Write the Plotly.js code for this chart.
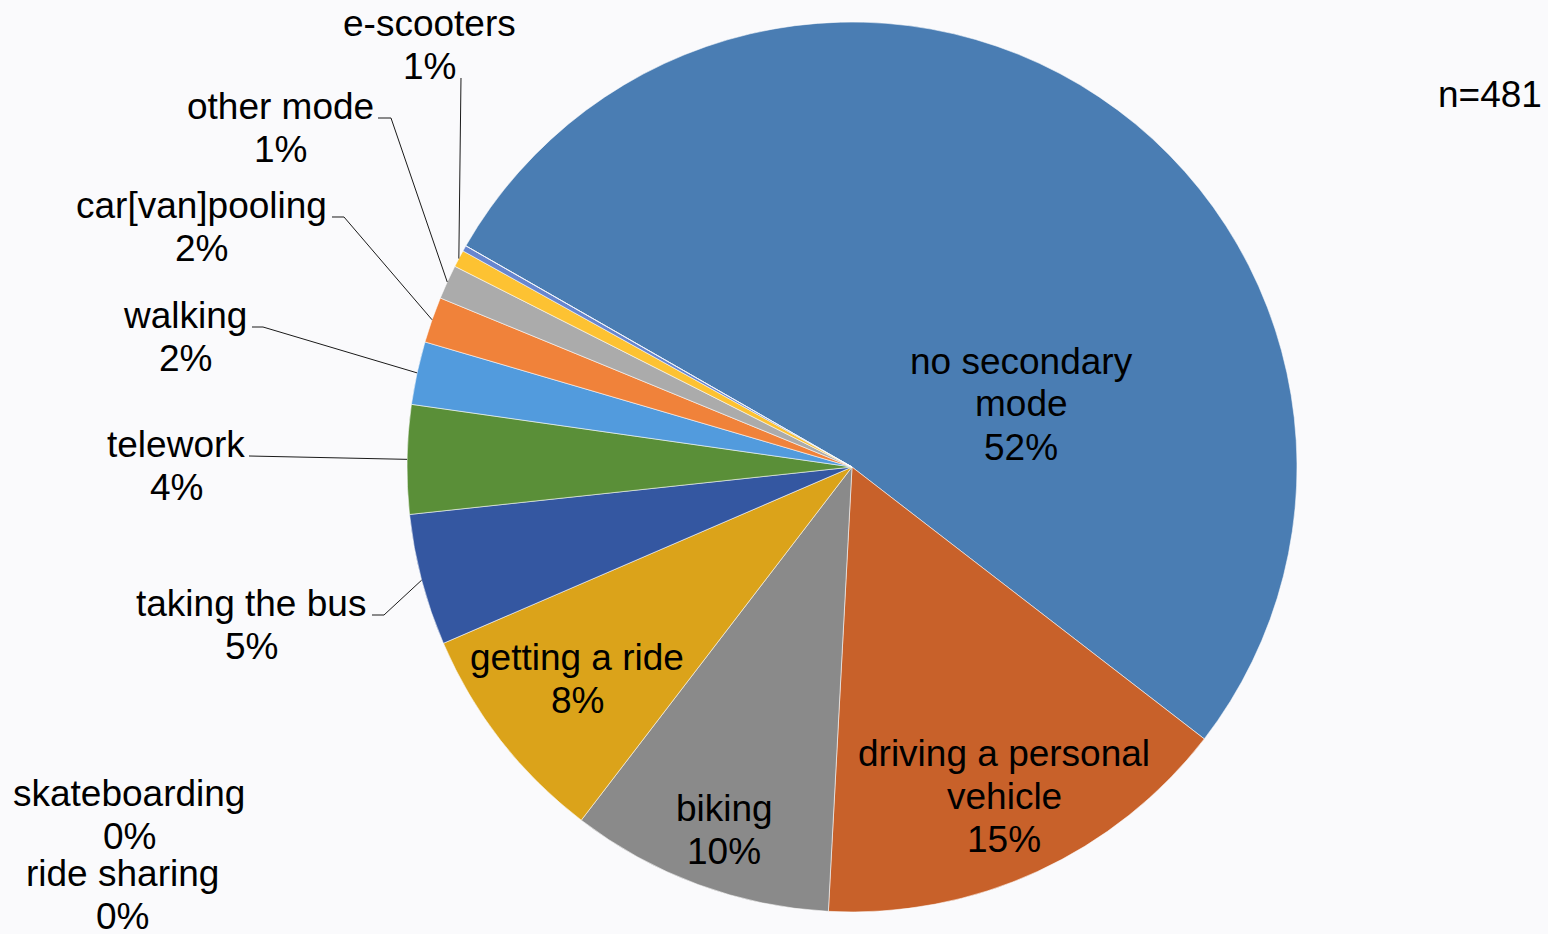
<!DOCTYPE html>
<html>
<head>
<meta charset="utf-8">
<script src="https://cdn.plot.ly/plotly-3.0.1.min.js"></script>
<style>html,body{margin:0;padding:0;background:#fafafc;}</style>
</head>
<body>
<div id="chart" style="width:1548px;height:934px;"></div>
<script>
// ---- data ----
const categories = ['no secondary mode', 'driving a personal vehicle', 'biking', 'getting a ride',
  'taking the bus', 'telework', 'walking', 'car[van]pooling', 'other mode', 'e-scooters',
  'skateboarding', 'ride sharing'];
const labelLines = [['no secondary', 'mode'], ['driving a personal', 'vehicle'], ['biking'],
  ['getting a ride'], ['taking the bus'], ['telework'], ['walking'], ['car[van]pooling'],
  ['other mode'], ['e-scooters'], ['skateboarding'], ['ride sharing']];
const counts = [251, 74, 46, 39, 23, 19, 11, 8, 6, 3, 1, 0];
const sliceColors = ['#4a7db3', '#c8612a', '#8a8a8a', '#dba31a', '#3457a1', '#5a8f38',
  '#529bdd', '#f0823a', '#ababab', '#fdc232', '#6786cf', '#70ad47'];

// ---- layout (pixels) ----
const W = 1548, H = 934;
const CX = 852, CY = 467, R = 445, ROT = -60.2;
const FONT = {family: 'Liberation Sans, Arial, sans-serif', size: 37, color: '#000'};
const LINE_GAP = 43;
// center of each label block [x, y]
const labelPos = [[1021, 404], [1004, 796], [724, 830], [577, 679], [251, 625], [176, 466],
  [185, 337], [201, 227], [280, 128], [429, 45], [129, 815], [122, 895]];
// leader-line anchor points near the labels (pixel), null = no leader
const leaderAnchors = [null, null, null, null,
  [[372, 615], [384, 615]], [[249, 456]], [[252, 327], [263, 327]], [[332, 217], [344, 217]],
  [[378, 118], [391, 118]], [[461, 78]], null, null];
const nPos = [1490, 95];

const total = counts.reduce((a, b) => a + b, 0);
const px = x => x / W, py = y => 1 - y / H;

const annotations = [];
const shapes = [];
let cum = 0;
counts.forEach((v, i) => {
  const pct = Math.round(v / total * 100) + '%';
  const lines = labelLines[i].concat([pct]);
  const [lx, ly] = labelPos[i];
  lines.forEach((t, k) => {
    annotations.push({
      xref: 'paper', yref: 'paper', x: px(lx), y: py(ly + (k - (lines.length - 1) / 2) * LINE_GAP),
      text: t, showarrow: false, xanchor: 'center', yanchor: 'middle', font: FONT
    });
  });
  const mid = (ROT + (cum + v / 2) / total * 360) * Math.PI / 180;
  if (leaderAnchors[i]) {
    const ex = CX + R * Math.sin(mid), ey = CY - R * Math.cos(mid);
    const pts = leaderAnchors[i].concat([[ex, ey]]);
    const path = pts.map((p, k) => (k ? 'L' : 'M') + px(p[0]).toFixed(5) + ',' + py(p[1]).toFixed(5)).join(' ');
    shapes.push({type: 'path', xref: 'paper', yref: 'paper', path: path,
      line: {color: '#1a1a1a', width: 1}});
  }
  cum += v;
});
annotations.push({xref: 'paper', yref: 'paper', x: px(nPos[0]), y: py(nPos[1]), text: 'n=' + total,
  showarrow: false, xanchor: 'center', yanchor: 'middle', font: FONT});

const trace = {
  type: 'pie',
  labels: categories,
  values: counts,
  sort: false,
  direction: 'clockwise',
  rotation: ROT,
  textinfo: 'none',
  hoverinfo: 'skip',
  marker: {colors: sliceColors, line: {color: 'rgba(255,255,255,0.55)', width: 1}},
  domain: {x: [(CX - R) / W, (CX + R) / W], y: [1 - (CY + R) / H, 1 - (CY - R) / H]}
};

const layout = {
  width: W, height: H,
  margin: {l: 0, r: 0, t: 0, b: 0},
  paper_bgcolor: '#fafafc',
  plot_bgcolor: '#fafafc',
  showlegend: false,
  annotations: annotations,
  shapes: shapes
};

Plotly.newPlot('chart', [trace], layout, {displayModeBar: false, staticPlot: true});
</script>
</body>
</html>
